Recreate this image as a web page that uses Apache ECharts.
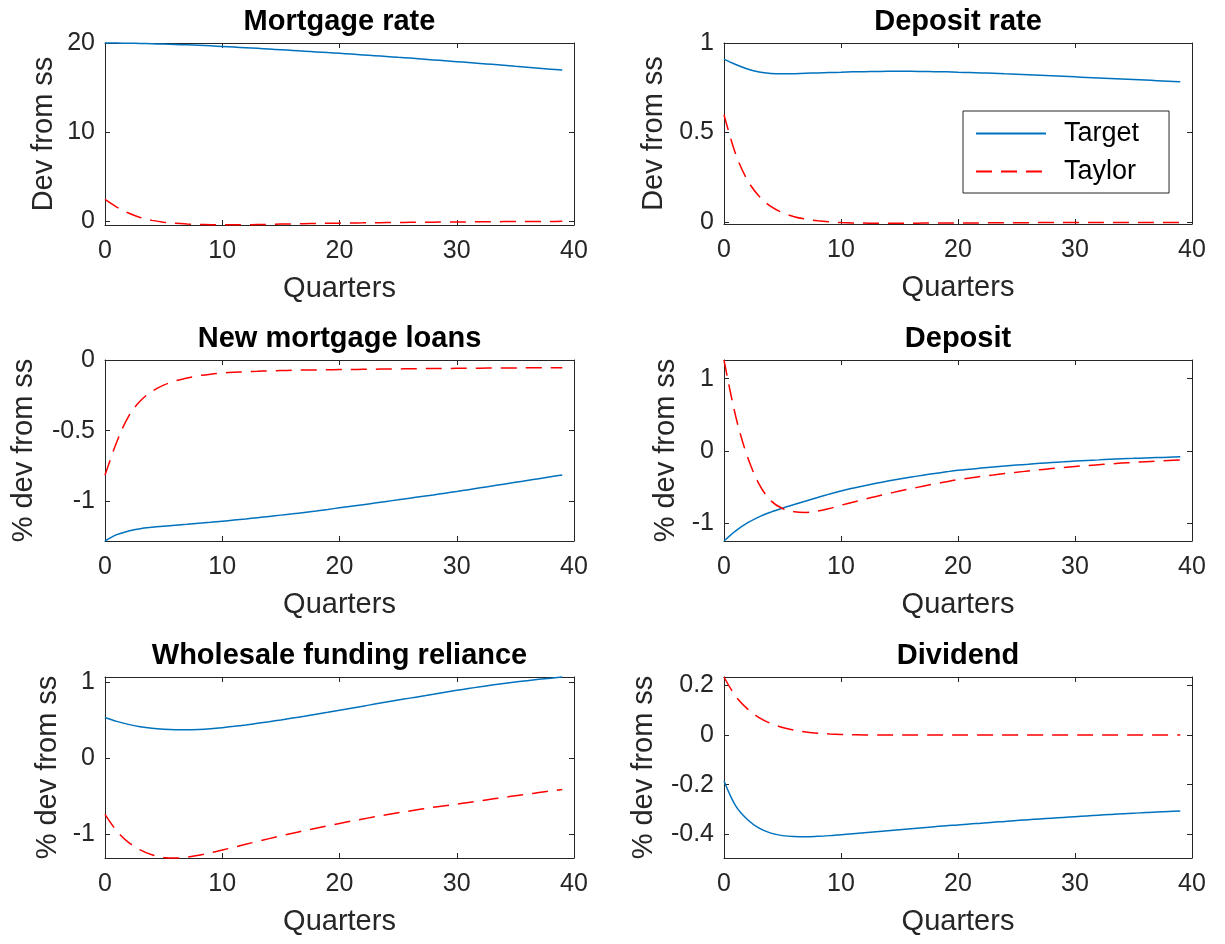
<!DOCTYPE html>
<html>
<head>
<meta charset="utf-8">
<script src="https://cdn.jsdelivr.net/npm/echarts@6/dist/echarts.min.js"></script>
<style>html,body{margin:0;padding:0;background:#fff}#chart{width:1225px;height:944px}</style>
</head>
<body>
<div id="chart"></div>
<script>
// ---------------- DATA ----------------
const quarters = [0,1,2,3,4,5,6,7,8,9,10,11,12,13,14,15,16,17,18,19,20,21,22,23,24,25,26,27,28,29,30,31,32,33,34,35,36,37,38,39];
const seriesNames = ['Target', 'Taylor'];
const titles = ['Mortgage rate', 'Deposit rate', 'New mortgage loans', 'Deposit', 'Wholesale funding reliance', 'Dividend'];
const yLabels = ['Dev from ss', 'Dev from ss', '% dev from ss', '% dev from ss', '% dev from ss', '% dev from ss'];
const xLabel = 'Quarters';
const xTicks = [0, 10, 20, 30, 40];
const yTicks = [[0, 10, 20], [0, 0.5, 1], [-1, -0.5, 0], [-1, 0, 1], [-1, 0, 1], [-0.4, -0.2, 0, 0.2]];
const yLimits = [[-0.47, 20], [-0.01, 1], [-1.28, 0], [-1.25, 1.26], [-1.317, 1.074], [-0.495, 0.233]];

const mortgageRateTarget = [20.00,19.99,19.97,19.95,19.92,19.88,19.84,19.79,19.74,19.68,19.61,19.54,19.47,19.40,19.32,19.24,19.16,19.08,19.00,18.92,18.84,18.75,18.66,18.57,18.48,18.39,18.30,18.20,18.10,18.00,17.90,17.80,17.70,17.60,17.49,17.38,17.28,17.17,17.06,16.95];
const mortgageRateTaylor = [2.40,1.55,0.88,0.38,0.05,-0.15,-0.28,-0.36,-0.41,-0.44,-0.45,-0.45,-0.44,-0.42,-0.40,-0.37,-0.35,-0.32,-0.30,-0.28,-0.26,-0.24,-0.23,-0.21,-0.20,-0.19,-0.17,-0.16,-0.15,-0.14,-0.13,-0.12,-0.11,-0.10,-0.09,-0.09,-0.08,-0.07,-0.07,-0.06];

const depositRateTarget = [0.910,0.880,0.855,0.838,0.830,0.828,0.829,0.831,0.833,0.835,0.837,0.839,0.840,0.841,0.842,0.842,0.842,0.841,0.840,0.839,0.837,0.835,0.833,0.831,0.828,0.826,0.823,0.820,0.817,0.814,0.811,0.808,0.805,0.802,0.799,0.796,0.793,0.790,0.787,0.784];
const depositRateTaylor = [0.600,0.380,0.235,0.145,0.088,0.053,0.031,0.017,0.008,0.002,-0.002,-0.004,-0.005,-0.006,-0.006,-0.006,-0.006,-0.005,-0.005,-0.005,-0.004,-0.004,-0.004,-0.003,-0.003,-0.003,-0.003,-0.002,-0.002,-0.002,-0.002,-0.002,-0.001,-0.001,-0.001,-0.001,-0.001,-0.001,-0.001,-0.001];

const newLoansTarget = [-1.280,-1.235,-1.210,-1.193,-1.183,-1.175,-1.168,-1.162,-1.155,-1.148,-1.140,-1.132,-1.124,-1.115,-1.106,-1.097,-1.088,-1.078,-1.068,-1.057,-1.045,-1.034,-1.023,-1.012,-1.000,-0.989,-0.977,-0.965,-0.954,-0.942,-0.930,-0.917,-0.904,-0.891,-0.878,-0.865,-0.852,-0.839,-0.826,-0.813];
const newLoansTaylor = [-0.815,-0.580,-0.400,-0.290,-0.222,-0.178,-0.148,-0.127,-0.111,-0.100,-0.092,-0.087,-0.083,-0.080,-0.077,-0.075,-0.073,-0.071,-0.070,-0.069,-0.068,-0.067,-0.066,-0.065,-0.064,-0.063,-0.062,-0.061,-0.060,-0.060,-0.059,-0.058,-0.058,-0.057,-0.056,-0.056,-0.055,-0.055,-0.054,-0.054];

const depositTarget = [-1.250,-1.110,-1.000,-0.915,-0.850,-0.795,-0.745,-0.695,-0.647,-0.600,-0.556,-0.518,-0.483,-0.450,-0.419,-0.390,-0.363,-0.338,-0.314,-0.291,-0.270,-0.254,-0.239,-0.224,-0.210,-0.197,-0.185,-0.173,-0.162,-0.152,-0.142,-0.133,-0.125,-0.117,-0.110,-0.104,-0.098,-0.093,-0.088,-0.083];
const depositTaylor = [1.260,0.480,-0.080,-0.460,-0.690,-0.800,-0.845,-0.855,-0.835,-0.800,-0.754,-0.712,-0.671,-0.632,-0.594,-0.558,-0.523,-0.490,-0.458,-0.428,-0.400,-0.377,-0.355,-0.335,-0.315,-0.297,-0.279,-0.262,-0.246,-0.231,-0.217,-0.204,-0.192,-0.181,-0.170,-0.160,-0.151,-0.142,-0.134,-0.126];

const wholesaleTarget = [0.540,0.488,0.448,0.418,0.397,0.384,0.377,0.376,0.381,0.391,0.405,0.422,0.441,0.462,0.484,0.507,0.531,0.556,0.582,0.608,0.635,0.662,0.689,0.716,0.743,0.769,0.795,0.821,0.847,0.873,0.898,0.922,0.945,0.967,0.988,1.008,1.026,1.043,1.059,1.074];
const wholesaleTaylor = [-0.740,-0.960,-1.110,-1.210,-1.275,-1.310,-1.317,-1.305,-1.280,-1.248,-1.212,-1.174,-1.136,-1.098,-1.061,-1.025,-0.990,-0.956,-0.923,-0.891,-0.860,-0.830,-0.801,-0.773,-0.746,-0.720,-0.695,-0.671,-0.648,-0.626,-0.605,-0.583,-0.561,-0.539,-0.517,-0.495,-0.474,-0.453,-0.432,-0.411];

const dividendTarget = [-0.185,-0.285,-0.340,-0.375,-0.395,-0.405,-0.409,-0.410,-0.408,-0.405,-0.401,-0.397,-0.393,-0.389,-0.385,-0.381,-0.377,-0.373,-0.369,-0.365,-0.362,-0.358,-0.355,-0.351,-0.348,-0.344,-0.341,-0.338,-0.335,-0.332,-0.329,-0.326,-0.323,-0.320,-0.317,-0.315,-0.312,-0.310,-0.308,-0.306];
const dividendTaylor = [0.233,0.155,0.105,0.070,0.046,0.030,0.019,0.012,0.007,0.004,0.002,0.001,0.000,0.000,0.000,0.000,0.000,0.000,0.000,0.000,0.000,0.000,0.000,0.000,0.000,0.000,0.000,0.000,0.000,0.000,0.000,0.000,0.000,0.000,0.000,0.000,0.000,0.000,0.000,0.000];

const targetSeries = [mortgageRateTarget, depositRateTarget, newLoansTarget, depositTarget, wholesaleTarget, dividendTarget];
const taylorSeries = [mortgageRateTaylor, depositRateTaylor, newLoansTaylor, depositTaylor, wholesaleTaylor, dividendTaylor];

// ---------------- LAYOUT / STYLE ----------------
const grids = [
  {left: 105, top: 43, width: 469, height: 182},
  {left: 724, top: 43, width: 468, height: 181},
  {left: 105, top: 360, width: 469, height: 181},
  {left: 724, top: 360, width: 468, height: 181},
  {left: 105, top: 677, width: 469, height: 181},
  {left: 724, top: 677, width: 468, height: 181}
];
const yNameGaps = [47, 56, 67, 44, 43, 66];
const FONT = '"Liberation Sans", Arial, Helvetica, sans-serif';
const AX = '#262626';
const BLUE = '#0072BD';
const RED = '#FF0000';

const option = {
  animation: false,
  backgroundColor: '#ffffff',
  title: [],
  grid: [],
  xAxis: [],
  yAxis: [],
  series: [],
  legend: {
    data: seriesNames,
    orient: 'vertical',
    left: 963,
    top: 111,
    padding: [9, 30, 8, 12],
    itemGap: 11,
    itemWidth: 70,
    itemHeight: 14,
    backgroundColor: '#ffffff',
    borderColor: AX,
    borderWidth: 1,
    borderRadius: 0,
    itemStyle: {color: 'rgba(0,0,0,0)', borderColor: 'rgba(0,0,0,0)', borderWidth: 0},
    textStyle: {fontSize: 27, color: '#000000', fontFamily: FONT, padding: [0, 0, 0, 13]}
  }
};

grids.forEach((g, i) => {
  option.grid.push({left: g.left, top: g.top, width: g.width, height: g.height, show: false});
  option.title.push({
    text: titles[i],
    left: g.left + g.width / 2,
    top: g.top - 36,
    textAlign: 'center',
    padding: 0,
    textStyle: {fontSize: 29, fontWeight: 'bold', color: '#000000', fontFamily: FONT}
  });
  const axisLine = {show: true, onZero: false, lineStyle: {color: AX, width: 1}};
  option.xAxis.push({
    type: 'value', gridIndex: i, position: 'bottom', min: 0, max: 40, interval: 10,
    axisLine: axisLine,
    axisTick: {show: true, inside: true, length: 5, customValues: xTicks, lineStyle: {color: AX}},
    axisLabel: {show: true, customValues: xTicks, color: AX, fontSize: 25, fontFamily: FONT, margin: 14},
    splitLine: {show: false},
    name: xLabel, nameLocation: 'middle', nameGap: 49,
    nameTextStyle: {fontSize: 29, color: AX, fontFamily: FONT}
  });
  option.xAxis.push({
    type: 'value', gridIndex: i, position: 'top', min: 0, max: 40, interval: 10,
    axisLine: axisLine,
    axisTick: {show: true, inside: true, length: 5, customValues: xTicks, lineStyle: {color: AX}},
    axisLabel: {show: false},
    splitLine: {show: false}
  });
  option.yAxis.push({
    type: 'value', gridIndex: i, position: 'left', min: yLimits[i][0], max: yLimits[i][1],
    axisLine: axisLine,
    axisTick: {show: true, inside: true, length: 5, customValues: yTicks[i], lineStyle: {color: AX}},
    axisLabel: {show: true, customValues: yTicks[i], color: AX, fontSize: 25, fontFamily: FONT, margin: 10},
    splitLine: {show: false},
    name: yLabels[i], nameLocation: 'middle', nameGap: yNameGaps[i],
    nameTextStyle: {fontSize: 29, color: AX, fontFamily: FONT}
  });
  option.yAxis.push({
    type: 'value', gridIndex: i, position: 'right', min: yLimits[i][0], max: yLimits[i][1],
    axisLine: axisLine,
    axisTick: {show: true, inside: true, length: 5, customValues: yTicks[i], lineStyle: {color: AX}},
    axisLabel: {show: false},
    splitLine: {show: false}
  });
  option.series.push({
    type: 'line', name: seriesNames[0], xAxisIndex: 2 * i, yAxisIndex: 2 * i,
    data: quarters.map((q, k) => [q, targetSeries[i][k]]),
    symbol: 'none', showSymbol: false, clip: false, smooth: 0.35,
    lineStyle: {color: BLUE, width: 1.5, type: 'solid'},
    itemStyle: {color: BLUE}
  });
  option.series.push({
    type: 'line', name: seriesNames[1], xAxisIndex: 2 * i, yAxisIndex: 2 * i,
    data: quarters.map((q, k) => [q, taylorSeries[i][k]]),
    symbol: 'none', showSymbol: false, clip: false, smooth: 0.35,
    lineStyle: {color: RED, width: 1.5, type: [16, 9]},
    itemStyle: {color: RED}
  });
});

const chart = echarts.init(document.getElementById('chart'), null, {renderer: 'canvas'});
chart.setOption(option);
</script>
</body>
</html>
